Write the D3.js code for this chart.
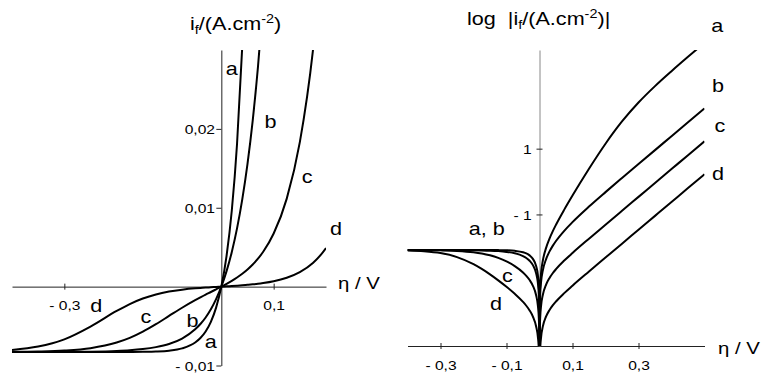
<!DOCTYPE html>
<meta charset="utf-8">
<script src="https://d3js.org/d3.v7.min.js"></script>
<style>
  body { margin: 0; background: #fff; }
  text { font-family: "Liberation Sans", Arial, sans-serif; fill: #000; }
</style>
<body>
<div id="chart"></div>
<script>

// ---- data ----
// left chart: overpotential (V) and faradaic current density (A/cm2)
var etaLin = [-0.4, -0.35, -0.3, -0.25, -0.2, -0.175, -0.15, -0.125, -0.1, -0.075, -0.05, -0.04, -0.03, -0.02, -0.01,
              0, 0.01, 0.02, 0.03, 0.04, 0.05, 0.06, 0.07, 0.08, 0.1, 0.125, 0.15, 0.175, 0.19, 0.2];
var iA = [-0.0083, -0.0083, -0.0083, -0.0083, -0.00829, -0.00829, -0.00827, -0.00823, -0.00812, -0.00783, -0.00709, -0.00652, -0.00569, -0.00446, -0.00266,
          0, 0.00391, 0.00965, 0.01809, 0.03048];
var iB = [-0.0083, -0.00829, -0.00828, -0.00825, -0.00816, -0.00807, -0.00792, -0.00767, -0.00727, -0.00658, -0.00541, -0.00474, -0.00391, -0.00287, -0.00159,
          0, 0.00197, 0.00439, 0.00738, 0.01106, 0.01557, 0.02109, 0.02786, 0.03611];
var iC = [-0.00827, -0.00822, -0.0081, -0.0078, -0.00709, -0.0065, -0.00571, -0.00476, -0.00372, -0.00268, -0.00172, -0.00136, -0.00101, -0.00068, -0.00034,
          0, 0.00036, 0.00074, 0.00116, 0.00163, 0.00217, 0.0028, 0.00354, 0.00442, 0.00673, 0.01116, 0.01832, 0.02993, 0.04013];
var iD = [-0.00802, -0.0076, -0.00668, -0.00506, -0.00308, -0.00221, -0.00151, -0.00099, -0.00063, -0.00039, -0.00022, -0.00017, -0.00012, -0.00008, -0.00004,
          0, 0.00004, 0.00008, 0.00012, 0.00017, 0.00023, 0.00029, 0.00036, 0.00045, 0.00068, 0.00113, 0.00184, 0.003, 0.00402, 0.00489];

// right chart: log |i|
var etaLog = [-0.4, -0.35, -0.3, -0.25, -0.2, -0.175, -0.15, -0.125, -0.1, -0.075, -0.05, -0.04, -0.03, -0.02, -0.01, -0.005, -0.002, -0.001,
              0, 0.001, 0.002, 0.005, 0.01, 0.02, 0.03, 0.04, 0.05, 0.075, 0.1, 0.15, 0.2, 0.25, 0.3, 0.35, 0.4, 0.45, 0.5];
var logA = [-2.081, -2.081, -2.081, -2.0811, -2.0812, -2.0815, -2.0824, -2.0847, -2.0905, -2.106, -2.1493, -2.1855, -2.245, -2.3505, -2.5757, -2.8369, -3.2102, -3.503,
            -5.1, -3.4862, -3.1767, -2.7531, -2.4081, -2.0155, -1.7426, -1.5159, -1.3126, -0.8534, -0.4251, 0.3894, 1.1498, 1.8261, 2.4029, 2.9022, 3.3574, 3.7933, 4.2196];
var logB = [-2.0811, -2.0814, -2.0821, -2.0838, -2.0885, -2.0933, -2.1013, -2.115, -2.1387, -2.1818, -2.2665, -2.3242, -2.4082, -2.5419, -2.7989, -3.0774, -3.4616, -3.7581,
            -5.1, -3.7489, -3.4431, -3.0313, -2.7065, -2.3574, -2.132, -1.9564, -1.8076, -1.4979, -1.2333, -0.7618, -0.3214, 0.1079, 0.5325, 0.9559, 1.3785, 1.8014, 2.2227];
var logC = [-2.0825, -2.0849, -2.0914, -2.108, -2.1492, -2.1873, -2.2432, -2.3224, -2.4298, -2.572, -2.7647, -2.8662, -2.9936, -3.1692, -3.4666, -3.7646, -4.1602, -4.4604,
            -5.1, -4.4586, -4.1565, -3.7555, -3.4483, -3.1323, -2.9369, -2.7885, -2.6639, -2.4027, -2.1717, -1.7372, -1.3118, -0.8885, -0.4661, -0.0436, 0.3788, 0.8014, 1.2227];
var logD = [-2.0958, -2.1191, -2.1753, -2.2962, -2.512, -2.6565, -2.8217, -3.0034, -3.1994, -3.4126, -3.6582, -3.7763, -3.9179, -4.1058, -4.4136, -4.7161, -5.1143, -5.4154,
            -5.6, -5.415, -5.114, -4.7151, -4.4116, -4.1017, -3.9116, -3.7674, -3.6465, -3.3919, -3.1651, -2.7346, -2.3109, -1.8881, -1.466, -1.0436, -0.6212, -0.1985, 0.2227];

// ticks
var xTicksL = [-0.3, 0.1], xTickLabelsL = ["- 0,3", "0,1"];
var yTicksL = [-0.01, 0.01, 0.02], yTickLabelsL = ["- 0,01", "0,01", "0,02"];
var xTicksR = [-0.3, -0.1, 0.1, 0.3], xTickLabelsR = ["- 0,3", "- 0,1", "0,1", "0,3"];
var yTicksR = [-1, 1], yTickLabelsR = ["- 1", "1"];

// curve labels (data coords)
var labelsL = [["a", 0.02, 0.0268], ["b", 0.094, 0.0201], ["c", 0.164, 0.0131], ["d", 0.219, 0.0065],
               ["d", -0.239, -0.0032], ["c", -0.144, -0.00465], ["b", -0.055, -0.0051], ["a", -0.02, -0.0078]];
var labelsR = [["a", 0.539, 4.56], ["b", 0.541, 2.73], ["c", 0.547, 1.52], ["d", 0.541, 0.05],
               ["a, b", -0.16, -1.62], ["c", -0.097, -3.05], ["d", -0.132, -3.9]];

var SX = 1.2; // text in the picture is stretched horizontally

var svg = d3.select("#chart").append("svg")
    .attr("width", 765)
    .attr("height", 374);

var defs = svg.append("defs");

// helper for stretched text
function label(g, x, y, s, size, anchor) {
  return g.append("text")
    .attr("transform", "translate(" + x + "," + y + ") scale(" + SX + ",1)")
    .attr("text-anchor", anchor || "middle")
    .style("font-size", size + "px")
    .text(s);
}

function zip(xs, ys) {
  return ys.map(function(v, i) { return [xs[i], v]; });
}

// ================= left chart =================
var x = d3.scaleLinear().domain([-0.4, 0.2]).range([12, 326]);
var y = d3.scaleLinear().domain([-0.01, 0.03]).range([365.5, 50]);

defs.append("clipPath").attr("id", "clipL")
  .append("rect").attr("x", x(-0.4)).attr("y", y(0.03))
  .attr("width", x(0.2) - x(-0.4)).attr("height", y(-0.01) - y(0.03));

var gL = svg.append("g");

// x axis
var xAxL = gL.append("g")
    .attr("transform", "translate(0," + y(0) + ")")
    .call(d3.axisBottom(x).tickValues(xTicksL)
      .tickFormat(function(d, i) { return xTickLabelsL[i]; })
      .tickSizeInner(3).tickSizeOuter(0));
xAxL.selectAll(".tick line").attr("y1", -3);
xAxL.selectAll(".tick text")
    .attr("y", 23.5).attr("dy", null)
    .attr("transform", "scale(" + SX + ",1)")
    .style("font-size", "13px").attr("font-family", null);

// y axis
var yAxL = gL.append("g")
    .attr("transform", "translate(" + x(0) + ",0)")
    .call(d3.axisLeft(y).tickValues(yTicksL)
      .tickFormat(function(d, i) { return yTickLabelsL[i]; })
      .tickSizeInner(5).tickSizeOuter(0));
yAxL.selectAll(".tick text")
    .attr("x", -5.3).attr("dy", "0.36em")
    .attr("transform", "scale(" + SX + ",1)")
    .style("font-size", "13px").attr("font-family", null);
gL.selectAll(".domain, .tick line").attr("stroke", "#222");

// curves
var lineL = d3.line()
    .x(function(d) { return x(d[0]); })
    .y(function(d) { return y(d[1]); })
    .curve(d3.curveMonotoneX);

gL.append("g").attr("clip-path", "url(#clipL)")
  .selectAll("path")
  .data([iA, iB, iC, iD])
  .enter().append("path")
    .attr("d", function(s) { return lineL(zip(etaLin, s)); })
    .attr("fill", "none")
    .attr("stroke", "#000")
    .attr("stroke-width", 2);

labelsL.forEach(function(l) { label(gL, x(l[1]), y(l[2]), l[0], 18); });

// title + axis name
var tL = gL.append("text")
    .attr("transform", "translate(190,30) scale(" + SX + ",1)")
    .style("font-size", "18px");
tL.append("tspan").text("i");
tL.append("tspan").attr("dy", 4).style("font-size", "12px").text("f");
tL.append("tspan").attr("dy", -4).text("/(A.cm");
tL.append("tspan").attr("dy", -7).style("font-size", "12px").text("-2");
tL.append("tspan").attr("dy", 7).text(")");

label(gL, 338, 288.5, "η / V", 17, "start");

// ================= right chart =================
var x2 = d3.scaleLinear().domain([-0.4, 0.5]).range([407.5, 704.5]);
var y2 = d3.scaleLinear().domain([-5, 4]).range([346, 50]);

defs.append("clipPath").attr("id", "clipR")
  .append("rect").attr("x", x2(-0.4)).attr("y", y2(4))
  .attr("width", x2(0.5) - x2(-0.4)).attr("height", y2(-5) - y2(4));

var gR = svg.append("g");

var xAxR = gR.append("g")
    .attr("transform", "translate(0," + y2(-5) + ")")
    .call(d3.axisBottom(x2).tickValues(xTicksR)
      .tickFormat(function(d, i) { return xTickLabelsR[i]; })
      .tickSizeInner(3).tickSizeOuter(0));
xAxR.selectAll(".tick line").attr("y1", -3);
xAxR.selectAll(".tick text")
    .attr("y", 24).attr("dy", null)
    .attr("transform", "scale(" + SX + ",1)")
    .style("font-size", "13px").attr("font-family", null);
xAxR.selectAll(".domain, .tick line").attr("stroke", "#222");

var yAxR = gR.append("g")
    .attr("transform", "translate(" + x2(0) + ",0)")
    .call(d3.axisLeft(y2).tickValues(yTicksR)
      .tickFormat(function(d, i) { return yTickLabelsR[i]; })
      .tickSizeInner(3).tickSizeOuter(0));
yAxR.selectAll(".tick line").attr("x1", 3).attr("stroke", "#222");
yAxR.select(".domain").attr("stroke", "#888");
yAxR.selectAll(".tick text")
    .attr("x", -6.5).attr("dy", "0.36em")
    .attr("transform", "scale(" + SX + ",1)")
    .style("font-size", "13px").attr("font-family", null);

var lineR = d3.line()
    .x(function(d) { return x2(d[0]); })
    .y(function(d) { return y2(d[1]); })
    .curve(d3.curveMonotoneX);

gR.append("g").attr("clip-path", "url(#clipR)")
  .selectAll("path")
  .data([logA, logB, logC, logD])
  .enter().append("path")
    .attr("d", function(s) { return lineR(zip(etaLog, s)); })
    .attr("fill", "none")
    .attr("stroke", "#000")
    .attr("stroke-width", 2);

labelsR.forEach(function(l) { label(gR, x2(l[1]), y2(l[2]), l[0], 18); });

var tR = gR.append("text")
    .attr("transform", "translate(467,25) scale(" + SX + ",1)")
    .style("font-size", "18px")
    .style("white-space", "pre");
tR.append("tspan").text("log  |i");
tR.append("tspan").attr("dy", 4).style("font-size", "12px").text("f");
tR.append("tspan").attr("dy", -4).text("/(A.cm");
tR.append("tspan").attr("dy", -7).style("font-size", "12px").text("-2");
tR.append("tspan").attr("dy", 7).text(")|");

label(gR, 718, 354, "η / V", 17, "start");

</script>
</body>
